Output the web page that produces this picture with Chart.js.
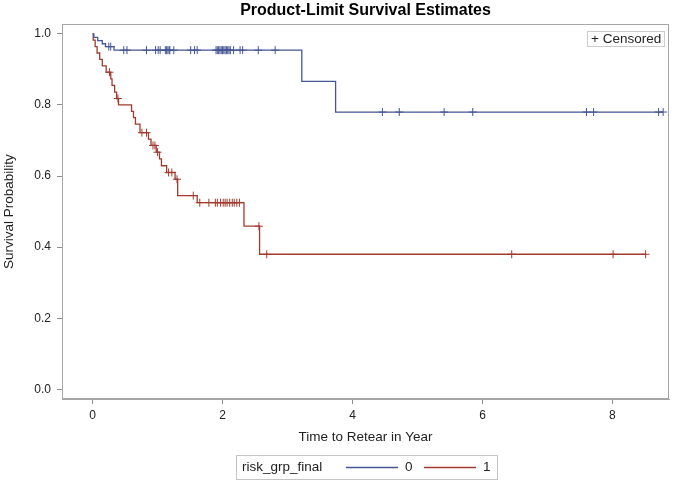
<!DOCTYPE html>
<html lang="en">
  <head>
    <meta charset="UTF-8" />
    <title>Product-Limit Survival Estimates</title>
    <style>
      html, body { margin: 0; padding: 0; background: #fff; }
    </style>
  </head>
  <body>
    <canvas id="km" width="674" height="483"></canvas>
    <script src="https://cdn.jsdelivr.net/npm/chart.js@4.4.0/dist/chart.umd.min.js"></script>
    <script>
      // risk_grp_final = 0 : event times and survival after each step
      const time0 = [0, 0.02, 0.08, 0.15, 0.2, 0.33, 3.22, 3.74, 8.78];
      const surv0 = [1, 0.99, 0.981, 0.972, 0.964, 0.954, 0.866, 0.78, 0.78];
      // censored times, group 0
      const cens0 = [0.25, 0.28, 0.48, 0.53, 0.83, 0.97, 1.01, 1.04, 1.12, 1.14, 1.16, 1.18, 1.19,
        1.25, 1.51, 1.57, 1.61, 1.9, 1.92, 1.94, 1.96, 1.98, 2.0, 2.02, 2.04, 2.06, 2.08, 2.1, 2.12,
        2.17, 2.27, 2.31, 2.55, 2.81, 4.46, 4.72, 5.41, 5.85, 7.6, 7.71, 8.71, 8.78];

      // risk_grp_final = 1
      const time1 = [0, 0.01, 0.04, 0.07, 0.11, 0.15, 0.21, 0.28, 0.3, 0.34, 0.37, 0.4,
        0.6, 0.63, 0.66, 0.73, 0.86, 0.9, 0.98, 1.03, 1.06, 1.14, 1.27, 1.31, 1.61, 2.33, 2.57, 8.51];
      const surv1 = [1, 0.982, 0.964, 0.946, 0.928, 0.91, 0.892, 0.873, 0.855, 0.836, 0.818, 0.8,
        0.782, 0.764, 0.746, 0.722, 0.704, 0.686, 0.667, 0.648, 0.629, 0.61, 0.591, 0.545, 0.525, 0.459, 0.38, 0.38];
      const cens1 = [0.26, 0.39, 0.76, 0.83, 0.93, 0.96, 1.0, 1.17, 1.22, 1.3, 1.55, 1.65, 1.79, 1.89,
        1.92, 1.97, 2.01, 2.04, 2.07, 2.11, 2.15, 2.18, 2.22, 2.26, 2.56, 2.68, 6.45, 8.01, 8.51];

      const groups = ["0", "1"];
      const xTicks = [0, 2, 4, 6, 8];
      const yTicks = [0, 0.2, 0.4, 0.6, 0.8, 1.0];

      const BLUE = "#445694";
      const RED = "#a23a2e";
      const FONT = "'Liberation Sans', Arial, sans-serif";
      Chart.defaults.font.family = FONT;

      // value of the step curve at time t
      function survAt(times, surv, t) {
        let s = surv[0];
        for (let i = 0; i < times.length; i++) {
          if (times[i] <= t) s = surv[i];
        }
        return s;
      }
      const curve = (times, surv) => times.map((t, i) => ({ x: t, y: surv[i] }));
      const marks = (cens, times, surv) => cens.map((t) => ({ x: t, y: survAt(times, surv, t) }));

      // box round the plot + the two legends
      const decor = {
        id: "decor",
        afterDraw(chart) {
          const ctx = chart.ctx;
          const a = chart.chartArea;
          ctx.save();
          ctx.strokeStyle = "#a6a6a6";
          ctx.lineWidth = 1;
          ctx.strokeRect(Math.round(a.left) + 0.5, Math.round(a.top) + 0.5,
            Math.round(a.right - a.left) - 1, Math.round(a.bottom - a.top) - 1);

          ctx.font = "13.5px " + FONT;
          ctx.textBaseline = "middle";
          ctx.fillStyle = "#222";

          // + Censored
          const bx = Math.round(a.right) - 82;
          const by = Math.round(a.top) + 7;
          ctx.strokeStyle = "#cccccc";
          ctx.strokeRect(bx + 0.5, by + 0.5, 77, 15);
          ctx.fillText("+ Censored", bx + 4, by + 8.5);

          // bottom legend
          const cx = (a.left + a.right) / 2;
          const lx = Math.round(cx - 130);
          const ly = 455;
          ctx.strokeStyle = "#c4c4c4";
          ctx.strokeRect(lx + 0.5, ly + 0.5, 261, 24);
          const my = ly + 12.5;
          ctx.fillText("risk_grp_final", lx + 6, my);
          ctx.lineWidth = 1.5;
          ctx.strokeStyle = BLUE;
          ctx.beginPath(); ctx.moveTo(lx + 110, my); ctx.lineTo(lx + 162, my); ctx.stroke();
          ctx.fillText(groups[0], lx + 169, my);
          ctx.strokeStyle = RED;
          ctx.beginPath(); ctx.moveTo(lx + 188, my); ctx.lineTo(lx + 240, my); ctx.stroke();
          ctx.fillText(groups[1], lx + 247, my);
          ctx.restore();
        },
      };

      new Chart(document.getElementById("km"), {
        type: "scatter",
        data: {
          datasets: [
            { label: groups[0], data: curve(time0, surv0), showLine: true, stepped: true,
              borderColor: BLUE, borderWidth: 1.3, pointRadius: 0, fill: false },
            { label: groups[1], data: curve(time1, surv1), showLine: true, stepped: true,
              borderColor: RED, borderWidth: 1.3, pointRadius: 0, fill: false },
            { label: "cens0", data: marks(cens0, time0, surv0), showLine: false,
              pointStyle: "cross", pointRadius: 4, borderColor: BLUE, borderWidth: 1 },
            { label: "cens1", data: marks(cens1, time1, surv1), showLine: false,
              pointStyle: "cross", pointRadius: 4, borderColor: RED, borderWidth: 1 },
          ],
        },
        options: {
          responsive: false,
          animation: false,
          layout: { padding: { left: 0, right: 4, top: 0, bottom: 34 } },
          plugins: {
            legend: { display: false },
            tooltip: { enabled: false },
            title: {
              display: true,
              text: "Product-Limit Survival Estimates",
              fullSize: false,
              color: "#000",
              font: { size: 16, weight: "bold" },
              padding: { top: 1, bottom: 4 },
            },
          },
          scales: {
            x: {
              type: "linear",
              min: -0.47,
              max: 8.87,
              afterBuildTicks: (s) => { s.ticks = xTicks.map((v) => ({ value: v })); },
              afterFit: (s) => { s.height = 50; },
              grid: { drawOnChartArea: false, tickLength: 5, color: "#8c8c8c" },
              border: { color: "#a6a6a6" },
              ticks: { padding: 4, color: "#222", font: { size: 12 } },
              title: { display: true, text: "Time to Retear in Year", color: "#222",
                font: { size: 13.5 }, padding: { top: 0, bottom: 4 } },
            },
            y: {
              type: "linear",
              min: -0.027,
              max: 1.027,
              afterBuildTicks: (s) => { s.ticks = yTicks.map((v) => ({ value: v })); },
              afterFit: (s) => { s.width = 62; },
              grid: { drawOnChartArea: false, tickLength: 5, color: "#8c8c8c" },
              border: { color: "#a6a6a6" },
              ticks: { padding: 6, color: "#222", font: { size: 12 },
                callback: (v) => Number(v).toFixed(1) },
              title: { display: true, text: "Survival Probability", color: "#222",
                font: { size: 13.5 }, padding: { top: 1, bottom: 0 } },
            },
          },
        },
        plugins: [decor],
      });
    </script>
  </body>
</html>
